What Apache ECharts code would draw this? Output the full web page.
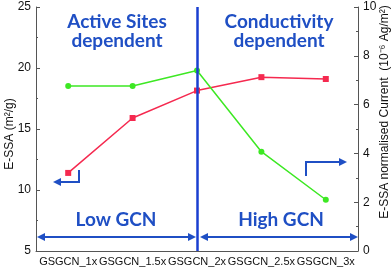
<!DOCTYPE html>
<html><head><meta charset="utf-8">
<script src="https://cdn.jsdelivr.net/npm/echarts@6/dist/echarts.min.js"></script>
<style>html,body{margin:0;padding:0;background:#fff}#c{width:392px;height:269px}</style>
</head><body><div id="c"></div>
<script>
var categories = ['GSGCN_1x','GSGCN_1.5x','GSGCN_2x','GSGCN_2.5x','GSGCN_3x'];
var essa = [11.4, 15.9, 18.15, 19.25, 19.1];
var normCurrent = [6.76, 6.76, 7.4, 4.07, 2.1];
var leftTicks = [5, 25, 5];   // min, max, interval
var rightTicks = [0, 10, 2];

var blue = '#1f4fc4';
var axisColor = '#555';
var chart = echarts.init(document.getElementById('c'));
function arrowHead(x, y, dir) {
  var s = 5, w = 4;
  var pts = dir === 'left' ? [[x, y], [x + s*1.6, y - w], [x + s*1.6, y + w]]
                           : [[x, y], [x - s*1.6, y - w], [x - s*1.6, y + w]];
  return { type: 'polygon', shape: { points: pts }, style: { fill: blue }, silent: true };
}
chart.setOption({
  animation: false,
  grid: { left: 36, right: 34, top: 7, bottom: 18 },
  xAxis: {
    type: 'category', data: categories, boundaryGap: true,
    axisLine: { lineStyle: { color: axisColor, width: 1 } },
    axisTick: { show: false },
    axisLabel: { color: '#111', fontSize: 11, fontFamily: 'Liberation Sans', margin: 5, interval: 0 }
  },
  yAxis: [{
    type: 'value', min: leftTicks[0], max: leftTicks[1], interval: leftTicks[2],
    axisLine: { show: true, lineStyle: { color: axisColor } },
    axisTick: { show: true, inside: true, length: 4, lineStyle: { color: axisColor } },
    minorTick: { show: true, splitNumber: 2, length: 2, lineStyle: { color: axisColor } },
    splitLine: { show: false },
    axisLabel: { color: '#111', fontSize: 12, fontFamily: 'Liberation Sans', margin: 5 }
  }, {
    type: 'value', min: rightTicks[0], max: rightTicks[1], interval: rightTicks[2], position: 'right',
    axisLine: { show: true, lineStyle: { color: axisColor } },
    axisTick: { show: true, inside: true, length: 4, lineStyle: { color: axisColor } },
    minorTick: { show: true, splitNumber: 2, length: 2, lineStyle: { color: axisColor } },
    splitLine: { show: false },
    axisLabel: { color: '#111', fontSize: 12, fontFamily: 'Liberation Sans', margin: 5 }
  }],
  series: [{
    type: 'line', data: essa, yAxisIndex: 0,
    symbol: 'rect', symbolSize: 6,
    lineStyle: { color: '#f5294f', width: 1.5 }, itemStyle: { color: '#f5294f' },
    markLine: {
      silent: true, symbol: 'none', label: { show: false },
      lineStyle: { color: '#1a3fd0', width: 2.5, type: 'solid' },
      data: [{ xAxis: 'GSGCN_2x' }]
    }
  }, {
    type: 'line', data: normCurrent, yAxisIndex: 1,
    symbol: 'circle', symbolSize: 6,
    lineStyle: { color: '#3de823', width: 1.5 }, itemStyle: { color: '#3de823' }
  }],
  graphic: [
    { type: 'text', x: 117, y: 31, silent: true, style: { text: 'Active Sites\ndependent', fill: blue, font: 'bold 19px Lato', textAlign: 'center', textVerticalAlign: 'middle', lineHeight: 19 } },
    { type: 'text', x: 279, y: 31, silent: true, style: { text: 'Conductivity\ndependent', fill: blue, font: 'bold 19px Lato', textAlign: 'center', textVerticalAlign: 'middle', lineHeight: 19 } },
    { type: 'text', x: 116, y: 220, silent: true, style: { text: 'Low GCN', fill: blue, font: 'bold 19px Lato', textAlign: 'center', textVerticalAlign: 'middle' } },
    { type: 'text', x: 281, y: 220, silent: true, style: { text: 'High GCN', fill: blue, font: 'bold 19px Lato', textAlign: 'center', textVerticalAlign: 'middle' } },
    { type: 'line', silent: true, shape: { x1: 42, y1: 237, x2: 191, y2: 237 }, style: { stroke: blue, lineWidth: 2 } },
    arrowHead(37, 237, 'left'), arrowHead(196, 237, 'right'),
    { type: 'line', silent: true, shape: { x1: 205, y1: 237, x2: 353, y2: 237 }, style: { stroke: blue, lineWidth: 2 } },
    arrowHead(200, 237, 'left'), arrowHead(358, 237, 'right'),
    { type: 'polyline', silent: true, shape: { points: [[79, 170], [79, 182], [58, 182]] }, style: { stroke: blue, lineWidth: 2, fill: null } },
    arrowHead(53, 182, 'left'),
    { type: 'polyline', silent: true, shape: { points: [[306, 176], [306, 162], [342, 162]] }, style: { stroke: blue, lineWidth: 2, fill: null } },
    arrowHead(347, 162, 'right'),
    { type: 'text', x: 10, y: 134, rotation: Math.PI / 2, silent: true, style: { text: 'E-SSA (m²/g)', fill: '#111', font: '12px Liberation Sans', textAlign: 'center', textVerticalAlign: 'middle' } },
    { type: 'text', x: 385, y: 112, rotation: Math.PI / 2, silent: true, style: { text: 'E-SSA normalised Current  (10⁻⁶ Ag/m²)', fill: '#111', font: '12px Liberation Sans', textAlign: 'center', textVerticalAlign: 'middle' } }
  ]
});
</script></body></html>
